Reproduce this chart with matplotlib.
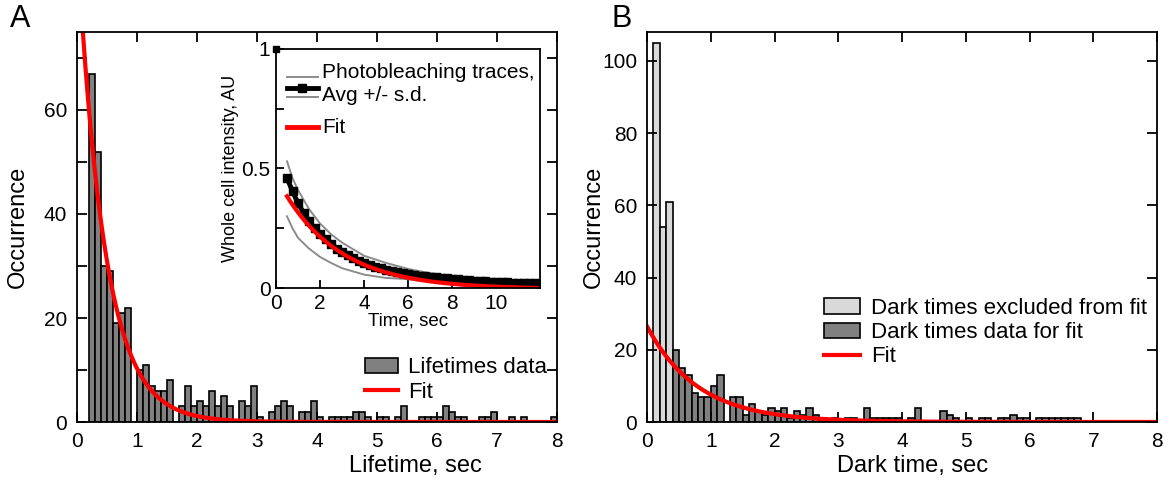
import numpy as np
import matplotlib
matplotlib.use("Agg")
import matplotlib.pyplot as plt

plt.rcParams["font.family"] = ["Liberation Sans", "DejaVu Sans"]

# ---- panel A: lifetimes histogram (bins of 0.1 s starting at 0.2 s)
lifetime_bin_start = 0.2
lifetime_counts = [
    67, 52, 30, 29, 19, 21, 22, 0,
    10, 11, 7, 6, 6, 8, 0, 3, 7, 3,
    4, 3, 6, 3, 5, 3, 0, 4, 3, 7,
    1, 0, 2, 3, 4, 3, 0, 2, 2, 4,
    1, 0, 1, 1, 1, 1, 2, 2, 1, 0,
    1, 1, 0, 1, 3, 0, 0, 1, 1, 1,
    1, 3, 2, 1, 1, 0, 0, 1, 1, 2,
    0, 0, 1, 0, 1, 0, 0, 0, 0, 1,
]
lifetime_fit_amp = 93.0
lifetime_fit_rate = 2.2

# ---- inset: photobleaching
avg_t = [0.5, 0.75, 1.0, 1.25, 1.5, 1.75, 2.0, 2.25, 2.5, 2.75, 3.0, 3.25,
         3.5, 3.75, 4.0, 4.25, 4.5, 4.75, 5.0, 5.25, 5.5, 5.75, 6.0, 6.25,
         6.5, 6.75, 7.0, 7.25, 7.5, 7.75, 8.0, 8.25, 8.5, 8.75, 9.0, 9.25,
         9.5, 9.75, 10.0, 10.25, 10.5, 10.75, 11.0, 11.25, 11.5, 11.75, 12.0]
avg_val = [0.46, 0.405, 0.355, 0.315, 0.28, 0.25, 0.225, 0.205, 0.185, 0.165,
           0.15, 0.137, 0.125, 0.114, 0.104, 0.096, 0.089, 0.082, 0.076,
           0.071, 0.066, 0.062, 0.058, 0.055, 0.052, 0.049, 0.046, 0.044,
           0.042, 0.040, 0.038, 0.036, 0.034, 0.033, 0.031, 0.030, 0.028,
           0.027, 0.026, 0.025, 0.024, 0.023, 0.022, 0.021, 0.020, 0.019, 0.018]
trace_t = [0.5, 0.75, 1.0, 1.5, 2.0, 2.5, 3.0, 4.0, 5.0, 6.0, 7.0, 8.0, 9.0, 10.0, 11.0, 12.0]
trace_upper = [0.53, 0.46, 0.41, 0.33, 0.27, 0.225, 0.19, 0.135, 0.105, 0.08,
               0.062, 0.05, 0.042, 0.035, 0.031, 0.028]
trace_lower = [0.30, 0.25, 0.21, 0.165, 0.13, 0.105, 0.083, 0.056, 0.042, 0.037,
               0.032, 0.028, 0.024, 0.02, 0.017, 0.015]
bleach_fit_amp = 0.47
bleach_fit_rate = 0.38
bleach_fit_offset = -0.005

# ---- panel B: dark times (bins of 0.1 s starting at 0.1 s)
dark_bin_start = 0.1
dark_excluded_counts = [105, 54, 61]
dark_fit_counts = [
    20, 15, 13, 8, 7, 7,
    10, 13, 0, 7, 7, 2, 5, 3, 2, 4,
    3, 4, 1, 3, 2, 4, 2, 1, 0, 1,
    0, 1, 1, 0, 4, 1, 1, 1, 1, 1,
    0, 1, 4, 0, 0, 0, 3, 2, 1, 0,
    1, 0, 1, 1, 0, 1, 1, 2, 1, 1,
    0, 1, 1, 1, 1, 1, 1, 1, 0, 0,
]
dark_fit_amp = 26.5
dark_fit_rate = 1.25

BIN_W = 0.1
DARK_GRAY = "#808080"
LIGHT_GRAY = "#d9d9d9"
TRACE_GRAY = "#8c8c8c"
RED = "#ff0000"


def style_axes(ax):
    for side in ax.spines.values():
        side.set_linewidth(1.3)
    ax.tick_params(which="both", direction="in", top=True, right=True,
                   width=1.3, length=7, labelsize=15, pad=7)


fig = plt.figure(figsize=(11.72, 4.86), dpi=100)

# ---------------- panel A
axA = fig.add_axes([77 / 1172, 64 / 486, 480 / 1172, 390 / 486])
left = lifetime_bin_start + BIN_W * np.arange(len(lifetime_counts))
bars_a = axA.bar(left, lifetime_counts, width=BIN_W, align="edge",
                 color=DARK_GRAY, edgecolor="black", linewidth=1.2,
                 label="Lifetimes data")
tA = np.linspace(0.05, 8, 400)
fit_a, = axA.plot(tA, lifetime_fit_amp * np.exp(-lifetime_fit_rate * tA),
                  color=RED, lw=3, label="Fit")
axA.set_xlim(0, 8)
axA.set_ylim(0, 75)
axA.set_xticks(range(0, 9))
axA.set_yticks([0, 20, 40, 60])
axA.set_yticks([10, 30, 50, 70], minor=True)
style_axes(axA)
axA.set_xlabel("Lifetime, sec", fontsize=17)
axA.xaxis.set_label_coords(0.706, -0.085)
axA.set_ylabel("Occurrence", fontsize=17)
axA.yaxis.set_label_coords(-0.1, 0.5)
axA.legend(handles=[bars_a, fit_a], loc="lower right",
           bbox_to_anchor=(0.98, 0.05), frameon=False, fontsize=16,
           handlelength=1.5, handleheight=0.7, handletextpad=0.45,
           labelspacing=0.15, borderpad=0, borderaxespad=0)

# ---------------- inset
axI = fig.add_axes([276 / 1172, 198 / 486, 264 / 1172, 239 / 486])
axI.plot(trace_t, trace_upper, color=TRACE_GRAY, lw=1.4)
axI.plot(trace_t, trace_lower, color=TRACE_GRAY, lw=1.4)
axI.plot(avg_t, avg_val, color="black", lw=3.5, marker="s", ms=6)
axI.plot([0], [1], color="black", marker="s", ms=5, clip_on=False, zorder=5)
tI = np.linspace(0.5, 12, 200)
axI.plot(tI, bleach_fit_amp * np.exp(-bleach_fit_rate * tI) + bleach_fit_offset,
         color=RED, lw=3)
axI.set_xlim(0, 12)
axI.set_ylim(0, 1)
axI.set_xticks([0, 2, 4, 6, 8, 10])
axI.set_yticks([0, 0.5, 1])
axI.set_yticklabels(["0", "0.5", "1"])
axI.set_yticks([0.25, 0.75], minor=True)
for side in axI.spines.values():
    side.set_linewidth(1.3)
axI.tick_params(which="both", direction="in", length=6, width=1.3,
                labelsize=15, pad=4)
axI.set_xlabel("Time, sec", fontsize=13.5, labelpad=0)
axI.set_ylabel("Whole cell intensity, AU", fontsize=13, labelpad=2)
# inset legend, drawn in axes fraction
hx = [0.04, 0.16]
axI.plot(hx, [0.884, 0.884], color=TRACE_GRAY, lw=1.4, transform=axI.transAxes)
axI.plot(hx, [0.800, 0.800], color=TRACE_GRAY, lw=1.4, transform=axI.transAxes)
axI.plot(hx, [0.838, 0.838], color="black", lw=3.5, transform=axI.transAxes)
axI.plot([0.10], [0.838], color="black", marker="s", ms=6, transform=axI.transAxes)
axI.plot(hx, [0.675, 0.675], color=RED, lw=3.5, transform=axI.transAxes)
axI.text(0.175, 0.9, "Photobleaching traces,", fontsize=15, va="center",
         transform=axI.transAxes)
axI.text(0.175, 0.805, "Avg +/- s.d.", fontsize=15, va="center",
         transform=axI.transAxes)
axI.text(0.175, 0.672, "Fit", fontsize=15, va="center", transform=axI.transAxes)

# ---------------- panel B
axB = fig.add_axes([647 / 1172, 64 / 486, 510 / 1172, 390 / 486])
exc_left = dark_bin_start + BIN_W * np.arange(len(dark_excluded_counts))
fit_left = exc_left[-1] + BIN_W + BIN_W * np.arange(len(dark_fit_counts))
bars_exc = axB.bar(exc_left, dark_excluded_counts, width=BIN_W, align="edge",
                   color=LIGHT_GRAY, edgecolor="black", linewidth=1.2,
                   label="Dark times excluded from fit")
bars_fit = axB.bar(fit_left, dark_fit_counts, width=BIN_W, align="edge",
                   color=DARK_GRAY, edgecolor="black", linewidth=1.2,
                   label="Dark times data for fit")
tB = np.linspace(0, 8, 400)
fit_b, = axB.plot(tB, dark_fit_amp * np.exp(-dark_fit_rate * tB), color=RED,
                  lw=3, label="Fit")
axB.set_xlim(0, 8)
axB.set_ylim(0, 108)
axB.set_xticks(range(0, 9))
axB.set_yticks([0, 20, 40, 60, 80, 100])
style_axes(axB)
axB.set_xlabel("Dark time, sec", fontsize=17)
axB.xaxis.set_label_coords(0.52, -0.085)
axB.set_ylabel("Occurrence", fontsize=17)
axB.yaxis.set_label_coords(-0.082, 0.5)
axB.legend(handles=[bars_exc, bars_fit, fit_b], loc="lower right",
           bbox_to_anchor=(0.98, 0.14), frameon=False, fontsize=16,
           handlelength=1.6, handleheight=0.7, handletextpad=0.5,
           labelspacing=0.15, borderpad=0, borderaxespad=0)

fig.text(10 / 1172, 1 - 4 / 486, "A", fontsize=22, va="top", ha="left")
fig.text(612 / 1172, 1 - 4 / 486, "B", fontsize=22, va="top", ha="left")

fig.savefig("out.png", dpi=100)
